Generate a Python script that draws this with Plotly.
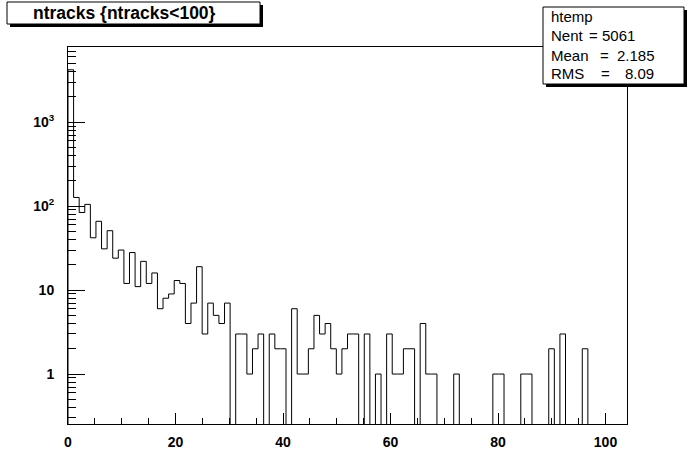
import math
import plotly.graph_objects as go

# ---- data ----
n_bins = 100
x_min, x_max = 0.0, 104.0
counts = [
    4213, 127, 84, 105, 42, 66, 31, 51, 24, 30,
    12, 28, 11, 22, 12, 16, 6, 8, 9, 13,
    12, 4, 7, 19, 3, 7, 5, 4, 7, 0,
    3, 3, 1, 2, 3, 0, 3, 2, 2, 0,
    6, 1, 1, 2, 5, 3, 4, 2, 1, 2,
    3, 3, 0, 3, 0, 1, 0, 3, 1, 1,
    2, 2, 0, 4, 1, 1, 0, 0, 0, 1,
    0, 0, 0, 0, 0, 0, 1, 1, 0, 0,
    0, 1, 1, 0, 0, 0, 2, 0, 3, 0,
    0, 0, 2, 0, 0, 0, 0, 0, 0, 0,
]
title_text = "ntracks {ntracks<100}"
stats_name = "htemp"
stats_labels = ["Nent", "Mean", "RMS"]
stats_values = ["5061", "2.185", "8.09"]
y_tickvals = [1, 10, 100, 1000]
y_ticktext = ["1", "10", "10<sup>2</sup>", "10<sup>3</sup>"]

# ---- geometry ----
W, H = 696, 472
L, R, T, B = 68, 627, 47, 424
pw, ph = R - L, B - T
y_lo, y_hi = 0.254, 7870.0


def px(xp):
    return (xp - L) / pw


def py(yp):
    return (B - yp) / ph


bw = (x_max - x_min) / n_bins
edges = [x_min + i * bw for i in range(n_bins + 1)]
floor = 1e-4
xs = [edges[0]] + edges + [edges[-1]]
ys = [floor] + [c if c > 0 else floor for c in counts] + [counts[-1] if counts[-1] > 0 else floor, floor]

fig = go.Figure()
fig.add_trace(go.Scatter(x=xs, y=ys, mode="lines", line=dict(color="black", width=1, shape="hv"),
                         hoverinfo="skip", showlegend=False))

minor_vals = []
for k in range(-1, 4):
    for m in range(2, 10):
        v = m * 10 ** k
        if y_lo <= v <= y_hi:
            minor_vals.append(v)

font_family = "Liberation Sans, Arial, Helvetica, sans-serif"

fig.update_layout(
    width=W, height=H,
    margin=dict(l=L, r=W - R, t=T, b=H - B, pad=0),
    paper_bgcolor="white", plot_bgcolor="white",
    showlegend=False,
    xaxis=dict(range=[x_min, x_max], showgrid=False, zeroline=False,
               showline=True, linecolor="black", linewidth=1, mirror=True,
               ticks="inside", ticklen=11, tickcolor="black", tickwidth=1,
               tick0=0, dtick=20, ticklabelstandoff=5,
               tickfont=dict(family=font_family, size=14, color="black", weight="bold"),
               minor=dict(ticks="inside", ticklen=6, tickcolor="black", dtick=5, tick0=0, showgrid=False)),
    yaxis=dict(type="log", range=[math.log10(y_lo), math.log10(y_hi)], showgrid=False, zeroline=False,
               showline=True, linecolor="black", linewidth=1, mirror=True,
               ticks="inside", ticklen=17, tickcolor="black", tickwidth=1,
               tickmode="array", tickvals=y_tickvals, ticktext=y_ticktext, ticklabelstandoff=10,
               tickfont=dict(family=font_family, size=14, color="black", weight="bold"),
               minor=dict(ticks="inside", ticklen=8, tickcolor="black", tickmode="array",
                          tickvals=minor_vals, showgrid=False)),
)

shapes = []


def box(x0, y0, x1, y1, shadow=2):
    shapes.append(dict(type="rect", xref="paper", yref="paper", layer="above",
                       x0=px(x0 + shadow + 1), x1=px(x1 + shadow + 1), y0=py(y0 + shadow + 1), y1=py(y1 + shadow + 1),
                       fillcolor="black", line=dict(width=0)))
    shapes.append(dict(type="rect", xref="paper", yref="paper", layer="above",
                       x0=px(x0), x1=px(x1), y0=py(y0), y1=py(y1),
                       fillcolor="white", line=dict(color="black", width=1)))


box(7, 2, 260, 24)
box(543, 7, 684, 84)
fig.update_layout(shapes=shapes)

ann = []
ann.append(dict(xref="paper", yref="paper", x=px(124), y=py(13), text=title_text, showarrow=False,
                xanchor="center", yanchor="middle",
                font=dict(family=font_family, size=17.5, color="black", weight="bold")))
stat_font = dict(family=font_family, size=15, color="black")
ann.append(dict(xref="paper", yref="paper", x=px(549), y=py(17), text=stats_name, showarrow=False,
                xanchor="left", yanchor="middle", font=stat_font))
label_y = [35, 55, 74]
eq_left = [587, 598, 599]
val_left = [600, 615, 623]
for lab, val, yy, ex, vx in zip(stats_labels, stats_values, label_y, eq_left, val_left):
    ann.append(dict(xref="paper", yref="paper", x=px(549), y=py(yy), text=lab, showarrow=False,
                    xanchor="left", yanchor="middle", font=stat_font))
    ann.append(dict(xref="paper", yref="paper", x=px(ex), y=py(yy), text="=", showarrow=False,
                    xanchor="left", yanchor="middle", font=stat_font))
    ann.append(dict(xref="paper", yref="paper", x=px(vx), y=py(yy), text=val, showarrow=False,
                    xanchor="left", yanchor="middle", font=stat_font))
fig.update_layout(annotations=ann)

fig.write_html("out.html", config={"displayModeBar": False},
               post_script="document.body.style.margin='0';document.body.style.padding='0';")
